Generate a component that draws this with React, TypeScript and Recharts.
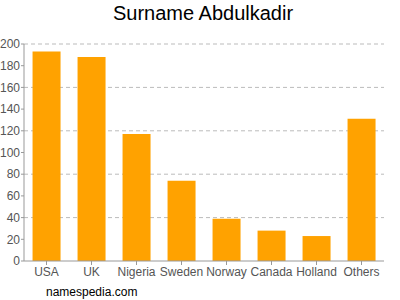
import { Bar, BarChart, CartesianGrid, XAxis, YAxis } from 'recharts';

const countries = ['USA', 'UK', 'Nigeria', 'Sweden', 'Norway', 'Canada', 'Holland', 'Others'];
const counts = [193, 188, 117, 74, 39, 28, 23, 131];
const yTicks = [0, 20, 40, 60, 80, 100, 120, 140, 160, 180, 200];
const gridLines = [40, 80, 120, 160, 200];

const data = countries.map((name, i) => ({ name, count: counts[i] }));

const font = '"Liberation Sans", Arial, sans-serif';

const App = () => {
  return (
    <div style={{ position: 'absolute', left: 0, top: 0, width: 400, height: 300, background: '#fff', fontFamily: font }}>
      <div style={{ position: 'absolute', top: 2, left: 0, width: 406, textAlign: 'center', fontSize: 20, color: '#000' }}>
        Surname Abdulkadir
      </div>
      <BarChart
        width={400}
        height={300}
        data={data}
        margin={{ top: 44, right: 16, left: 0, bottom: 9 }}
        barCategoryGap="19%"
      >
        <CartesianGrid vertical={false} horizontalValues={gridLines} stroke="#bbb" strokeDasharray="4 3" />
        <XAxis
          dataKey="name"
          height={30}
          stroke="#999"
          tickSize={4}
          tickMargin={2}
          tick={{ fill: '#555', fontSize: 12, fontFamily: font }}
          interval={0}
        />
        <YAxis
          width={24}
          domain={[0, 200]}
          ticks={yTicks}
          stroke="#999"
          tickSize={3}
          tickMargin={1}
          tick={{ fill: '#555', fontSize: 12, fontFamily: font }}
          interval={0}
        />
        <Bar dataKey="count" fill="#ffa200" isAnimationActive={false} />
      </BarChart>
      <div style={{ position: 'absolute', top: 285, left: 46, fontSize: 12, color: '#000' }}>namespedia.com</div>
    </div>
  );
};

export default App;
